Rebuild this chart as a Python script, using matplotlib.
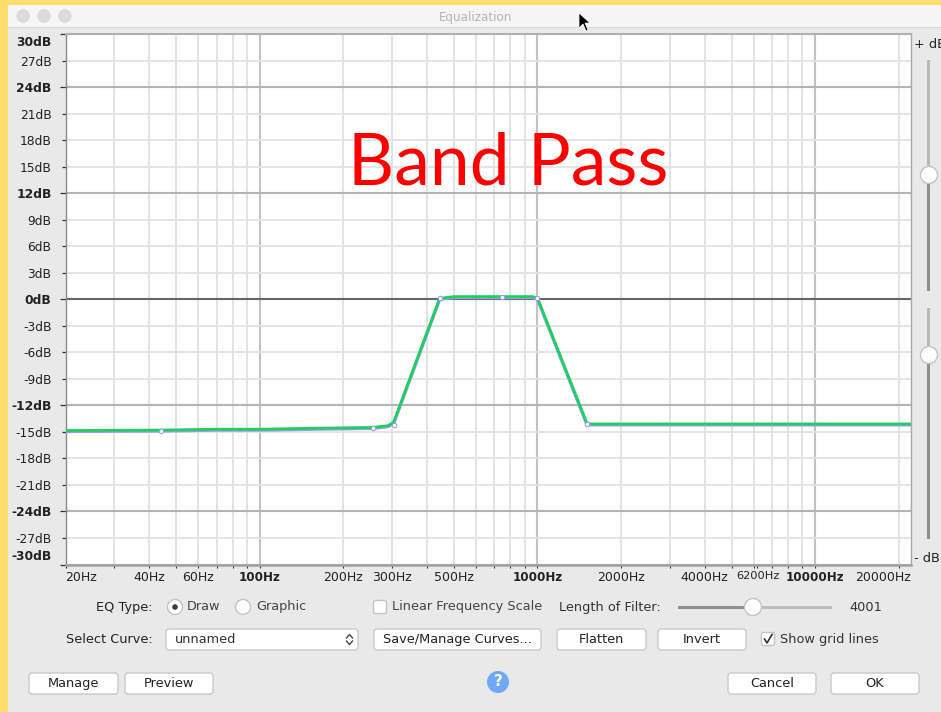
import matplotlib
matplotlib.use("Agg")
import matplotlib.pyplot as plt
from matplotlib.patches import Circle, FancyBboxPatch, Polygon, Rectangle
from matplotlib.transforms import Affine2D

# ---- data ----
db_ticks = [30, 27, 24, 21, 18, 15, 12, 9, 6, 3, 0, -3, -6, -9, -12, -15, -18, -21, -24, -27, -30]
db_bold = [30, 24, 12, 0, -12, -24, -30]
hz_grid = [20, 30, 40, 50, 60, 70, 80, 90, 100, 200, 300, 400, 500, 600, 700, 800, 900,
           1000, 2000, 3000, 4000, 5000, 6000, 7000, 8000, 9000, 10000, 20000]
hz_major = [100, 1000, 10000]
hz_labels = [20, 40, 60, 100, 200, 300, 500, 1000, 2000, 4000, 6200, 10000, 20000]
hz_min, hz_max = 20, 22050

curve_hz = [20, 44, 70, 100, 150, 255, 290, 304, 445, 500, 745, 960, 1000, 1510, 22050]
curve_db = [-14.85, -14.8, -14.7, -14.7, -14.6, -14.5, -14.3, -13.9, 0.1, 0.3, 0.3, 0.3, 0.15, -14.1, -14.1]
point_hz = [44, 255, 304, 445, 745, 1000, 1510]
point_db = [-14.85, -14.55, -14.2, 0.15, 0.25, 0.15, -14.1]

W, H = 941, 712
BG = "#e9e9e9"
TXT = "#222222"
UI_FONT = "DejaVu Sans"

fig = plt.figure(figsize=(W / 100, H / 100), dpi=100, facecolor="#ffdd6b")

# window chrome, drawn in pixel coordinates
ui = fig.add_axes([0, 0, 1, 1], zorder=0)
ui.set_xlim(0, W)
ui.set_ylim(H, 0)
ui.axis("off")


def rect(x0, y0, x1, y1, color, z=1):
    ui.add_patch(Rectangle((x0, y0), x1 - x0, y1 - y0, fc=color, ec="none", zorder=z))


def button(x0, y0, x1, y1, label=None, size=9.25):
    ui.add_patch(FancyBboxPatch((x0 + 2, y0 + 2), x1 - x0 - 4, y1 - y0 - 4, boxstyle="round,pad=2,rounding_size=3",
                                fc="white", ec="#c9c9c9", lw=1, zorder=2))
    if label:
        ui.text((x0 + x1) / 2, (y0 + y1) / 2, label, ha="center", va="center", fontsize=size, color=TXT, family=UI_FONT)


def label(x, y, s, ha="left", size=9.25, color=TXT):
    ui.text(x, y, s, ha=ha, va="center", fontsize=size, color=color, family=UI_FONT, clip_on=True)


def knob(x, y, r=8.5):
    ui.add_patch(Circle((x, y), r, fc="white", ec="#c4c4c4", lw=1, zorder=4))


rect(8, 5, W, H, BG)
rect(8, 5, W, 27, "#f5f5f5", 2)
rect(8, 27, W, 28, "#d8d8d8", 2)
for cx in [23, 44, 65]:
    ui.add_patch(Circle((cx, 16), 6.2, fc="#dcdcdc", ec="#d2d2d2", lw=0.5, zorder=3))
label(476, 17, "Equalization", ha="center", size=8.6, color="#b4b4b4")

# mouse pointer
ui.add_patch(Polygon([(579, 13), (579, 28), (583, 24), (586, 31), (588, 30), (585, 23), (590, 23)],
                     fc="black", ec="white", lw=0.5, zorder=5))

# sliders on the right
rect(927.5, 60, 930.5, 175, "#b9b9b9", 2)
rect(927.5, 175, 930.5, 291, "#8e8e93", 2)
rect(927.5, 308, 930.5, 355, "#b9b9b9", 2)
rect(927.5, 355, 930.5, 539, "#8e8e93", 2)
knob(929, 175)
knob(929, 355)
label(914, 44, "+ dB", size=9.25)
label(914, 558, "- dB", size=9.25)

# controls below the plot
label(153, 607, "EQ Type:", ha="right")
ui.add_patch(Circle((175, 607), 7.5, fc="white", ec="#c4c4c4", lw=1, zorder=3))
ui.add_patch(Circle((175, 607), 2.8, fc="#3c3c3c", ec="none", zorder=4))
label(187, 606.5, "Draw", color="#444444")
ui.add_patch(Circle((243, 607), 7.5, fc="white", ec="#c4c4c4", lw=1, zorder=3))
label(256, 606.5, "Graphic", color="#444444")
ui.add_patch(FancyBboxPatch((374, 601), 12, 12, boxstyle="round,pad=0.5,rounding_size=2",
                            fc="white", ec="#c4c4c4", lw=1, zorder=3))
label(392, 606.5, "Linear Frequency Scale", color="#444444")
label(559, 607.5, "Length of Filter:", color="#333333")
rect(678, 605.5, 753, 608.5, "#8e8e93", 2)
rect(753, 605.5, 832, 608.5, "#bdbdbd", 2)
knob(753, 607)
label(849, 607.5, "4001", color="#333333")

label(153, 639.5, "Select Curve:", ha="right")
button(166, 629, 358, 650)
label(175, 639.5, "unnamed", color="#333333")
ui.plot([346.5, 349.5, 352.5], [638, 634.5, 638], color="#444444", lw=1, zorder=3)
ui.plot([346.5, 349.5, 352.5], [641, 644.5, 641], color="#444444", lw=1, zorder=3)
button(374, 629, 541, 650, "Save/Manage Curves...")
button(557, 629, 646, 650, "Flatten")
button(658, 629, 746, 650, "Invert")
ui.add_patch(FancyBboxPatch((762, 633), 12, 12, boxstyle="round,pad=0.5,rounding_size=2",
                            fc="white", ec="#c4c4c4", lw=1, zorder=3))
ui.plot([764.5, 767, 772], [639, 643, 634.5], color="#333333", lw=1.2, zorder=4)
label(780, 639.5, "Show grid lines", color="#333333")

button(29, 673, 118, 694, "Manage")
button(125, 673, 213, 694, "Preview")
button(728, 673, 816, 694, "Cancel")
button(831, 673, 919, 694, "OK")
ui.add_patch(Circle((498, 682), 11, fc="#6fa8fb", ec="none", zorder=3))
ui.text(498, 682, "?", ha="center", va="center", fontsize=11, fontweight="bold", color="white", zorder=4, family=UI_FONT)

# the response plot
left, right, top, bottom = 65.5, 910.5, 34, 564.5
ax = fig.add_axes([left / W, 1 - bottom / H, (right - left) / W, (bottom - top) / H], zorder=1)
ax.set_facecolor("white")
ax.set_xscale("log")
ax.set_xlim(hz_min, hz_max)
ax.set_ylim(-30, 30)

for hz in hz_grid:
    major = hz in hz_major
    ax.axvline(hz, color="#c2c2c2" if major else "#e0e0e0", lw=1.5 if major else 1.3, zorder=1)
for db in db_ticks:
    if db == 0:
        ax.axhline(db, color="#666666", lw=1.5, zorder=2)
    elif db in db_bold:
        ax.axhline(db, color="#b4b4b4", lw=1.5, zorder=2)
    else:
        ax.axhline(db, color="#e3e3e3", lw=1.3, zorder=1)

ax.plot(curve_hz, [d - 0.1 for d in curve_db], color="#9a9af0", lw=2.4, zorder=3, solid_joinstyle="round")
ax.plot(curve_hz, curve_db, color="#1fd060", lw=2.0, zorder=4, solid_joinstyle="round")
ax.plot(point_hz, point_db, ls="none", marker="o", ms=3.2, mfc="white", mec="#9a9af0", mew=0.8, zorder=5)

ax.set_yticks(db_ticks)
ax.set_yticklabels([f"{d}dB" for d in db_ticks], fontsize=8.8, color=TXT, family=UI_FONT)
ax.tick_params(axis="y", length=2.6, width=0.9, color="#333333", pad=7.5)
for tick, d in zip(ax.yaxis.get_major_ticks(), db_ticks):
    if d in db_bold:
        tick.label1.set_fontweight("bold")
        tick.tick1line.set_markersize(4.6)
    if d == 30:
        tick.label1.set_va("top")
        tick.label1.set_transform(tick.label1.get_transform() + Affine2D().translate(0, -2))
    if d == -30:
        tick.label1.set_va("bottom")
        tick.label1.set_transform(tick.label1.get_transform() + Affine2D().translate(0, 1))

ax.set_xticks(hz_grid + [6200], minor=True)
ax.set_xticklabels([], minor=True)
ax.set_xticks(hz_labels)
ax.set_xticklabels([f"{h}Hz" for h in hz_labels], fontsize=9, color=TXT, family=UI_FONT)
ax.tick_params(axis="x", which="both", length=2.4, width=0.8, color="#333333", pad=2.5)
for tick, h in zip(ax.xaxis.get_major_ticks(), hz_labels):
    if h in hz_major:
        tick.label1.set_fontweight("bold")
        tick.label1.set_fontsize(8.6)
    if h == 20:
        tick.label1.set_ha("left")
    if h == 6200:
        tick.label1.set_fontsize(8.2)
    if h == 20000:
        tick.label1.set_ha("right")
        tick.label1.set_transform(tick.label1.get_transform() + Affine2D().translate(12, 0))

for side, col, lw in [("top", "#b0b0b0", 1.4), ("left", "#8a8a8a", 1.0), ("bottom", "#a0a0a0", 1.8), ("right", "#a8a8a8", 1.0)]:
    ax.spines[side].set_color(col)
    ax.spines[side].set_linewidth(lw)

fig.text(508 / W, 1 - 164 / H, "Band Pass", color="#ff0000", fontsize=51.5, family="Lato", ha="center", va="center", zorder=5)

fig.savefig("out.png", dpi=100, facecolor=fig.get_facecolor())
